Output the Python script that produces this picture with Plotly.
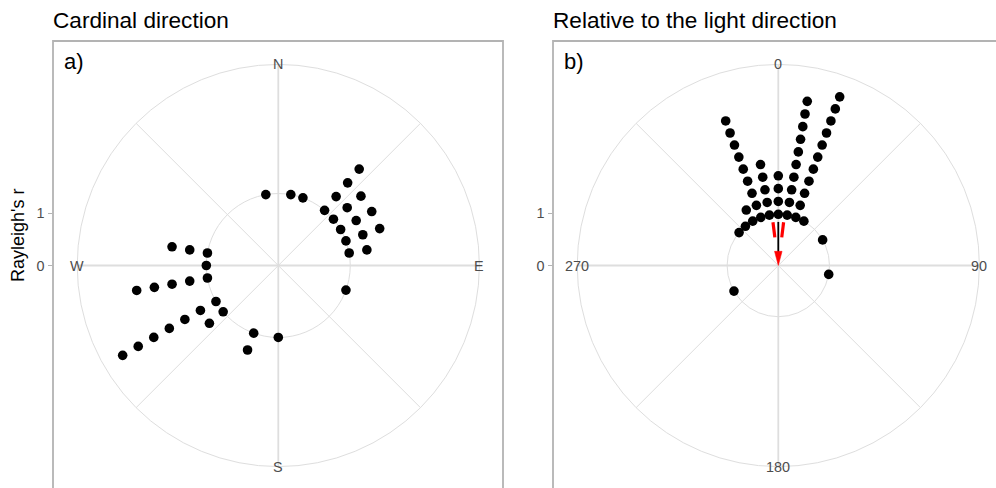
import numpy as np
import plotly.graph_objects as go

# ---- data -------------------------------------------------------------
# Panel a: heading bins (degrees clockwise from north) and number of animals per bin
cardinal_bins = [350, 10, 20, 40, 50, 60, 70, 80, 110, 180, 200, 230, 240, 260, 270, 280]
cardinal_counts = [1, 1, 1, 4, 3, 3, 3, 2, 1, 1, 2, 2, 7, 5, 1, 3]
cardinal_labels = ["N", "E", "S", "W"]

# Panel b: heading bins relative to the light (degrees) and counts
light_bins = [-50, -40, -30, -20, -10, 0, 10, 20, 30, 60, 100, 240]
light_counts = [1, 1, 2, 9, 5, 4, 10, 11, 1, 1, 1, 1]
light_labels = ["0", "90", "180", "270"]

# Mean vector of panel b (direction in degrees, Rayleigh's r) and its confidence bounds
light_mean_dir = 0.0
light_rayleigh_r = 0.83
light_ci = [-7.0, 7.0]

y_ticks = [0, 1]
y_ticktext = ["0", "1"]

# ---- geometry / style -------------------------------------------------
W, H = 996, 488
PX = 52.5                      # pixels per axis unit
TOP = 41                       # top edge of the panels (px)
SIZE = 450                     # panel side (px)
CY = 265.5                     # vertical centre of both panels (px)
PANELS = [dict(left=53, cx=278.3), dict(left=553, cx=778.3)]
R_OUT = 3.83                   # outer reference circle
R_IN = [1.371, 0.975]          # base circle of each dot plot
STEP = [0.342, 0.2444]         # radial spacing between stacked dots
GRID = "#dedede"
FONT = "Liberation Sans, Arial, sans-serif"
GREY_TXT = "#4d4d4d"


def polar_xy(bearing_deg, r):
    t = np.deg2rad(bearing_deg)
    return r * np.sin(t), r * np.cos(t)


fig = go.Figure()
shapes, annotations = [], []

panel_data = [
    (cardinal_bins, cardinal_counts, cardinal_labels),
    (light_bins, light_counts, light_labels),
]

for i, (bins, counts, labels) in enumerate(panel_data):
    xr = "x" if i == 0 else "x2"
    yr = "y" if i == 0 else "y2"
    p = PANELS[i]

    # reference circles
    for rad in (R_OUT, R_IN[i]):
        shapes.append(dict(type="circle", xref=xr, yref=yr, x0=-rad, x1=rad, y0=-rad, y1=rad,
                           line=dict(color=GRID, width=1), layer="below"))
    # spokes every 45 degrees
    for a in range(0, 360, 45):
        ex, ey = polar_xy(a, R_OUT)
        shapes.append(dict(type="line", xref=xr, yref=yr, x0=0, y0=0, x1=ex, y1=ey,
                           line=dict(color=GRID, width=1.8 if a % 90 == 0 else 1), layer="below"))
    # direction labels on the outer circle
    for a, lab in zip((0, 90, 180, 270), labels):
        lx, ly = polar_xy(a, R_OUT)
        annotations.append(dict(x=lx, y=ly, xref=xr, yref=yr, text=lab, showarrow=False,
                                xanchor="center", yanchor="middle",
                                font=dict(family=FONT, size=14.4, color=GREY_TXT)))

    # stacked dots
    xs, ys = [], []
    for b, n in zip(bins, counts):
        for k in range(n):
            dx, dy = polar_xy(b, R_IN[i] + k * STEP[i])
            xs.append(dx)
            ys.append(dy)
    fig.add_trace(go.Scatter(x=xs, y=ys, mode="markers", xaxis=xr, yaxis=yr,
                             marker=dict(size=9.6, color="black", line=dict(width=0)),
                             hoverinfo="skip", showlegend=False))

    # panel border (left/top/right; bottom falls outside the page)
    shapes.append(dict(type="rect", xref="paper", yref="paper",
                       x0=p["left"] / W, x1=(p["left"] + SIZE) / W,
                       y0=1 - (TOP + SIZE) / H, y1=1 - TOP / H,
                       line=dict(color="#b3b3b3", width=1.8), layer="above"))
    # panel letter
    annotations.append(dict(x=(p["left"] + 9) / W, y=1 - 61 / H, xref="paper", yref="paper",
                            text="a)" if i == 0 else "b)", showarrow=False,
                            xanchor="left", yanchor="middle",
                            font=dict(family=FONT, size=22, color="black")))

# mean vector with confidence bounds in panel b
mx, my = polar_xy(light_mean_dir, light_rayleigh_r)
lx0, ly0 = polar_xy(light_mean_dir, 0.2)
fig.add_trace(go.Scatter(x=[mx, lx0], y=[my, ly0], mode="lines", xaxis="x2", yaxis="y2",
                         line=dict(color="black", width=1.8), hoverinfo="skip", showlegend=False))
for c in light_ci:
    a0x, a0y = polar_xy(light_mean_dir + c, 0.65 * light_rayleigh_r)
    a1x, a1y = polar_xy(light_mean_dir + c, light_rayleigh_r)
    fig.add_trace(go.Scatter(x=[a0x, a1x], y=[a0y, a1y], mode="lines", xaxis="x2", yaxis="y2",
                             line=dict(color="#ff0000", width=3.2), hoverinfo="skip", showlegend=False))
# arrow head pointing at the origin
bx, by = polar_xy(light_mean_dir, 0.27)
px_, py_ = polar_xy(light_mean_dir + 90, 0.072)
fig.add_trace(go.Scatter(x=[0, bx + px_, bx - px_, 0], y=[0, by + py_, by - py_, 0],
                         mode="lines", fill="toself", fillcolor="#ff0000",
                         line=dict(color="#ff0000", width=0.5), xaxis="x2", yaxis="y2",
                         hoverinfo="skip", showlegend=False))

# titles
annotations.append(dict(x=51 / W, y=1 - 20 / H, xref="paper", yref="paper",
                        text="Cardinal direction", showarrow=False, xanchor="left", yanchor="middle",
                        font=dict(family=FONT, size=22.6, color="black")))
annotations.append(dict(x=551 / W, y=1 - 20 / H, xref="paper", yref="paper",
                        text="Relative to the light direction", showarrow=False,
                        xanchor="left", yanchor="middle",
                        font=dict(family=FONT, size=22.6, color="black")))
annotations.append(dict(x=18 / W, y=1 - 236 / H, xref="paper", yref="paper",
                        text="Rayleigh's r", showarrow=False, textangle=-90,
                        xanchor="center", yanchor="middle",
                        font=dict(family=FONT, size=18, color="black")))

y_range = [(CY - H) / PX, (CY - TOP) / PX]
y_dom = [0, (H - TOP) / H]
yaxis_common = dict(range=y_range, domain=y_dom, tickvals=y_ticks, ticktext=y_ticktext,
                    ticks="outside", ticklen=4.5, tickwidth=1, tickcolor="#b3b3b3",
                    tickfont=dict(family=FONT, size=14.4, color=GREY_TXT),
                    showgrid=False, zeroline=False, showline=False, fixedrange=True)
xaxis_common = dict(showgrid=False, zeroline=False, showline=False, showticklabels=False,
                    ticks="", fixedrange=True)

pa, pb = PANELS
fig.update_layout(
    width=W, height=H, margin=dict(l=0, r=0, t=0, b=0),
    paper_bgcolor="white", plot_bgcolor="rgba(0,0,0,0)",
    xaxis=dict(domain=[pa["left"] / W, (pa["left"] + SIZE) / W],
               range=[(pa["left"] - pa["cx"]) / PX, (pa["left"] + SIZE - pa["cx"]) / PX],
               anchor="y", **xaxis_common),
    xaxis2=dict(domain=[pb["left"] / W, 1],
                range=[(pb["left"] - pb["cx"]) / PX, (W - pb["cx"]) / PX],
                anchor="y2", **xaxis_common),
    yaxis=dict(anchor="x", **yaxis_common),
    yaxis2=dict(anchor="x2", **yaxis_common),
    shapes=shapes, annotations=annotations,
    font=dict(family=FONT), showlegend=False,
)

fig.write_html("out.html")
